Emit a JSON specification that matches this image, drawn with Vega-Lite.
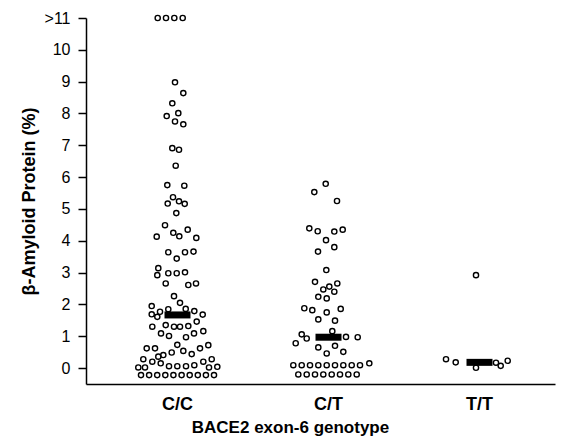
{
  "$schema": "https://vega.github.io/schema/vega-lite/v6.json",
  "width": 469,
  "height": 366,
  "autosize": {"type": "none"},
  "padding": {"left": 86, "top": 18, "right": 10, "bottom": 56},
  "background": "white",
  "config": {"view": {"stroke": null}, "font": "Liberation Sans"},
  "datasets": {
    "points": [
      {"genotype": "C/C", "jitter": -19.8, "amyloid": 11},
      {"genotype": "C/C", "jitter": -11.5, "amyloid": 11},
      {"genotype": "C/C", "jitter": -3.2, "amyloid": 11},
      {"genotype": "C/C", "jitter": 5.2, "amyloid": 11},
      {"genotype": "C/C", "jitter": -2.5, "amyloid": 8.98},
      {"genotype": "C/C", "jitter": 5.8, "amyloid": 8.64},
      {"genotype": "C/C", "jitter": -5.2, "amyloid": 8.32},
      {"genotype": "C/C", "jitter": 0.8, "amyloid": 8.01},
      {"genotype": "C/C", "jitter": -10.8, "amyloid": 7.92},
      {"genotype": "C/C", "jitter": -2.5, "amyloid": 7.75},
      {"genotype": "C/C", "jitter": 5.8, "amyloid": 7.66},
      {"genotype": "C/C", "jitter": -5.2, "amyloid": 6.91},
      {"genotype": "C/C", "jitter": 1.5, "amyloid": 6.86},
      {"genotype": "C/C", "jitter": -1.8, "amyloid": 6.36},
      {"genotype": "C/C", "jitter": -10.2, "amyloid": 5.75},
      {"genotype": "C/C", "jitter": 6.8, "amyloid": 5.73},
      {"genotype": "C/C", "jitter": -4.5, "amyloid": 5.37},
      {"genotype": "C/C", "jitter": 1.5, "amyloid": 5.24},
      {"genotype": "C/C", "jitter": -9.8, "amyloid": 5.17},
      {"genotype": "C/C", "jitter": 7.2, "amyloid": 5.16},
      {"genotype": "C/C", "jitter": -1.2, "amyloid": 4.87},
      {"genotype": "C/C", "jitter": -12.5, "amyloid": 4.49},
      {"genotype": "C/C", "jitter": 10.2, "amyloid": 4.35},
      {"genotype": "C/C", "jitter": -4.2, "amyloid": 4.25},
      {"genotype": "C/C", "jitter": 1.8, "amyloid": 4.14},
      {"genotype": "C/C", "jitter": -20.8, "amyloid": 4.13},
      {"genotype": "C/C", "jitter": 18.8, "amyloid": 4.09},
      {"genotype": "C/C", "jitter": -9.2, "amyloid": 3.64},
      {"genotype": "C/C", "jitter": 7.5, "amyloid": 3.64},
      {"genotype": "C/C", "jitter": 16.0, "amyloid": 3.66},
      {"genotype": "C/C", "jitter": -0.8, "amyloid": 3.44},
      {"genotype": "C/C", "jitter": -19.2, "amyloid": 3.14},
      {"genotype": "C/C", "jitter": -20.2, "amyloid": 2.92},
      {"genotype": "C/C", "jitter": -9.2, "amyloid": 2.98},
      {"genotype": "C/C", "jitter": -0.8, "amyloid": 2.98},
      {"genotype": "C/C", "jitter": 7.5, "amyloid": 3.01},
      {"genotype": "C/C", "jitter": -11.8, "amyloid": 2.66},
      {"genotype": "C/C", "jitter": 10.8, "amyloid": 2.61},
      {"genotype": "C/C", "jitter": 18.5, "amyloid": 2.66},
      {"genotype": "C/C", "jitter": -3.5, "amyloid": 2.26},
      {"genotype": "C/C", "jitter": 2.5, "amyloid": 2.05},
      {"genotype": "C/C", "jitter": -25.8, "amyloid": 1.95},
      {"genotype": "C/C", "jitter": -17.5, "amyloid": 1.77},
      {"genotype": "C/C", "jitter": -9.2, "amyloid": 1.85},
      {"genotype": "C/C", "jitter": 8.2, "amyloid": 1.86},
      {"genotype": "C/C", "jitter": 16.8, "amyloid": 1.79},
      {"genotype": "C/C", "jitter": -25.8, "amyloid": 1.69},
      {"genotype": "C/C", "jitter": -20.2, "amyloid": 1.61},
      {"genotype": "C/C", "jitter": 25.2, "amyloid": 1.68},
      {"genotype": "C/C", "jitter": -25.2, "amyloid": 1.30},
      {"genotype": "C/C", "jitter": -16.5, "amyloid": 1.09},
      {"genotype": "C/C", "jitter": -11.8, "amyloid": 1.35},
      {"genotype": "C/C", "jitter": -3.5, "amyloid": 1.30},
      {"genotype": "C/C", "jitter": 2.5, "amyloid": 1.30},
      {"genotype": "C/C", "jitter": 10.8, "amyloid": 1.32},
      {"genotype": "C/C", "jitter": 19.2, "amyloid": 1.46},
      {"genotype": "C/C", "jitter": 25.8, "amyloid": 1.16},
      {"genotype": "C/C", "jitter": 16.5, "amyloid": 1.09},
      {"genotype": "C/C", "jitter": -8.5, "amyloid": 1.01},
      {"genotype": "C/C", "jitter": 8.5, "amyloid": 0.97},
      {"genotype": "C/C", "jitter": -30.8, "amyloid": 0.62},
      {"genotype": "C/C", "jitter": -22.5, "amyloid": 0.62},
      {"genotype": "C/C", "jitter": -0.2, "amyloid": 0.73},
      {"genotype": "C/C", "jitter": 5.8, "amyloid": 0.54},
      {"genotype": "C/C", "jitter": 14.2, "amyloid": 0.44},
      {"genotype": "C/C", "jitter": 22.5, "amyloid": 0.62},
      {"genotype": "C/C", "jitter": 30.8, "amyloid": 0.72},
      {"genotype": "C/C", "jitter": -5.8, "amyloid": 0.49},
      {"genotype": "C/C", "jitter": -14.2, "amyloid": 0.41},
      {"genotype": "C/C", "jitter": -19.2, "amyloid": 0.36},
      {"genotype": "C/C", "jitter": -34.2, "amyloid": 0.28},
      {"genotype": "C/C", "jitter": -25.2, "amyloid": 0.20},
      {"genotype": "C/C", "jitter": -16.8, "amyloid": 0.15},
      {"genotype": "C/C", "jitter": -39.2, "amyloid": 0.02},
      {"genotype": "C/C", "jitter": -32.5, "amyloid": 0.02},
      {"genotype": "C/C", "jitter": -8.5, "amyloid": 0.06},
      {"genotype": "C/C", "jitter": -0.2, "amyloid": 0.06},
      {"genotype": "C/C", "jitter": 8.5, "amyloid": 0.06},
      {"genotype": "C/C", "jitter": 16.8, "amyloid": 0.09},
      {"genotype": "C/C", "jitter": 25.8, "amyloid": 0.20},
      {"genotype": "C/C", "jitter": 34.2, "amyloid": 0.28},
      {"genotype": "C/C", "jitter": 39.8, "amyloid": 0.04},
      {"genotype": "C/C", "jitter": 31.5, "amyloid": 0.02},
      {"genotype": "C/C", "jitter": -36.5, "amyloid": -0.22},
      {"genotype": "C/C", "jitter": -28.4, "amyloid": -0.22},
      {"genotype": "C/C", "jitter": -20.3, "amyloid": -0.22},
      {"genotype": "C/C", "jitter": -12.2, "amyloid": -0.22},
      {"genotype": "C/C", "jitter": -4.1, "amyloid": -0.22},
      {"genotype": "C/C", "jitter": 4.1, "amyloid": -0.22},
      {"genotype": "C/C", "jitter": 12.2, "amyloid": -0.22},
      {"genotype": "C/C", "jitter": 20.3, "amyloid": -0.22},
      {"genotype": "C/C", "jitter": 28.4, "amyloid": -0.22},
      {"genotype": "C/C", "jitter": 36.5, "amyloid": -0.22},
      {"genotype": "C/T", "jitter": -2.8, "amyloid": 5.79},
      {"genotype": "C/T", "jitter": -14.2, "amyloid": 5.53},
      {"genotype": "C/T", "jitter": 8.5, "amyloid": 5.25},
      {"genotype": "C/T", "jitter": -19.2, "amyloid": 4.39},
      {"genotype": "C/T", "jitter": -10.8, "amyloid": 4.30},
      {"genotype": "C/T", "jitter": 5.8, "amyloid": 4.29},
      {"genotype": "C/T", "jitter": 14.2, "amyloid": 4.35},
      {"genotype": "C/T", "jitter": -2.5, "amyloid": 4.02},
      {"genotype": "C/T", "jitter": -10.5, "amyloid": 3.66},
      {"genotype": "C/T", "jitter": 5.8, "amyloid": 3.80},
      {"genotype": "C/T", "jitter": -2.2, "amyloid": 3.08},
      {"genotype": "C/T", "jitter": -13.5, "amyloid": 2.71},
      {"genotype": "C/T", "jitter": -5.2, "amyloid": 2.47},
      {"genotype": "C/T", "jitter": 0.8, "amyloid": 2.56},
      {"genotype": "C/T", "jitter": 8.8, "amyloid": 2.66},
      {"genotype": "C/T", "jitter": 5.8, "amyloid": 2.40},
      {"genotype": "C/T", "jitter": -10.2, "amyloid": 2.24},
      {"genotype": "C/T", "jitter": -1.8, "amyloid": 2.19},
      {"genotype": "C/T", "jitter": -24.2, "amyloid": 1.88},
      {"genotype": "C/T", "jitter": -16.2, "amyloid": 1.82},
      {"genotype": "C/T", "jitter": -1.8, "amyloid": 1.75},
      {"genotype": "C/T", "jitter": 12.2, "amyloid": 1.86},
      {"genotype": "C/T", "jitter": -10.2, "amyloid": 1.53},
      {"genotype": "C/T", "jitter": 6.5, "amyloid": 1.49},
      {"genotype": "C/T", "jitter": 3.8, "amyloid": 1.16},
      {"genotype": "C/T", "jitter": -26.8, "amyloid": 1.06},
      {"genotype": "C/T", "jitter": -21.8, "amyloid": 0.93},
      {"genotype": "C/T", "jitter": -32.8, "amyloid": 0.78},
      {"genotype": "C/T", "jitter": 17.5, "amyloid": 0.98},
      {"genotype": "C/T", "jitter": 29.2, "amyloid": 0.97},
      {"genotype": "C/T", "jitter": -10.2, "amyloid": 0.65},
      {"genotype": "C/T", "jitter": -1.8, "amyloid": 0.46},
      {"genotype": "C/T", "jitter": 6.5, "amyloid": 0.70},
      {"genotype": "C/T", "jitter": 14.8, "amyloid": 0.51},
      {"genotype": "C/T", "jitter": -35.2, "amyloid": 0.09},
      {"genotype": "C/T", "jitter": -26.8, "amyloid": 0.09},
      {"genotype": "C/T", "jitter": -18.5, "amyloid": 0.09},
      {"genotype": "C/T", "jitter": -10.2, "amyloid": 0.09},
      {"genotype": "C/T", "jitter": -1.8, "amyloid": 0.09},
      {"genotype": "C/T", "jitter": 6.5, "amyloid": 0.09},
      {"genotype": "C/T", "jitter": 14.8, "amyloid": 0.09},
      {"genotype": "C/T", "jitter": 23.2, "amyloid": 0.09},
      {"genotype": "C/T", "jitter": 31.5, "amyloid": 0.09},
      {"genotype": "C/T", "jitter": 40.8, "amyloid": 0.15},
      {"genotype": "C/T", "jitter": -30.2, "amyloid": -0.20},
      {"genotype": "C/T", "jitter": -21.8, "amyloid": -0.20},
      {"genotype": "C/T", "jitter": -13.5, "amyloid": -0.20},
      {"genotype": "C/T", "jitter": -5.2, "amyloid": -0.20},
      {"genotype": "C/T", "jitter": 3.2, "amyloid": -0.20},
      {"genotype": "C/T", "jitter": 11.5, "amyloid": -0.20},
      {"genotype": "C/T", "jitter": 19.8, "amyloid": -0.20},
      {"genotype": "C/T", "jitter": 28.2, "amyloid": -0.20},
      {"genotype": "T/T", "jitter": -33.5, "amyloid": 0.28},
      {"genotype": "T/T", "jitter": -23.8, "amyloid": 0.18},
      {"genotype": "T/T", "jitter": -3.5, "amyloid": 0.01},
      {"genotype": "T/T", "jitter": 16.5, "amyloid": 0.17},
      {"genotype": "T/T", "jitter": 21.2, "amyloid": 0.07},
      {"genotype": "T/T", "jitter": 28.2, "amyloid": 0.23},
      {"genotype": "T/T", "jitter": -3.5, "amyloid": 2.92}
    ],
    "medians": [
      {"genotype": "C/C", "amyloid": 1.67},
      {"genotype": "C/T", "amyloid": 0.97},
      {"genotype": "T/T", "amyloid": 0.18}
    ]
  },
  "encoding": {
    "x": {
      "field": "genotype",
      "type": "nominal",
      "scale": {"domain": ["C/C", "C/T", "T/T"], "paddingInner": 0, "paddingOuter": 0.053, "align": 1},
      "axis": {
        "title": "BACE2 exon-6 genotype",
        "ticks": false,
        "tickSize": 0,
        "labelAngle": 0,
        "labelFontSize": 18,
        "labelFontWeight": "bold",
        "labelColor": "black",
        "labelPadding": 11,
        "domainColor": "black",
        "domainWidth": 1.5,
        "titleFontSize": 17,
        "titleFontWeight": "bold",
        "titleColor": "black",
        "titlePadding": 6,
        "titleX": 204
      }
    },
    "y": {
      "field": "amyloid",
      "type": "quantitative",
      "scale": {"domain": [-0.5, 11], "nice": false, "zero": false},
      "axis": {
        "title": "β-Amyloid Protein (%)",
        "values": [0, 1, 2, 3, 4, 5, 6, 7, 8, 9, 10, 11],
        "labelExpr": "datum.value == 11 ? '>11' : datum.label",
        "grid": false,
        "tickSize": 8,
        "tickWidth": 1.5,
        "tickColor": "black",
        "domainColor": "black",
        "domainWidth": 1.5,
        "labelFontSize": 16,
        "labelColor": "black",
        "labelPadding": 8,
        "titleFontSize": 18,
        "titleFontWeight": "bold",
        "titleColor": "black",
        "titlePadding": 6
      }
    }
  },
  "layer": [
    {
      "data": {"name": "points"},
      "mark": {"type": "point", "shape": "circle", "filled": false, "color": "black", "strokeWidth": 1.4, "size": 27, "opacity": 1},
      "encoding": {
        "xOffset": {"field": "jitter", "type": "quantitative", "scale": {"domain": [-75.5, 75.5]}}
      }
    },
    {
      "data": {"name": "medians"},
      "mark": {"type": "tick", "color": "black", "size": 26, "thickness": 7, "opacity": 1}
    }
  ]
}
